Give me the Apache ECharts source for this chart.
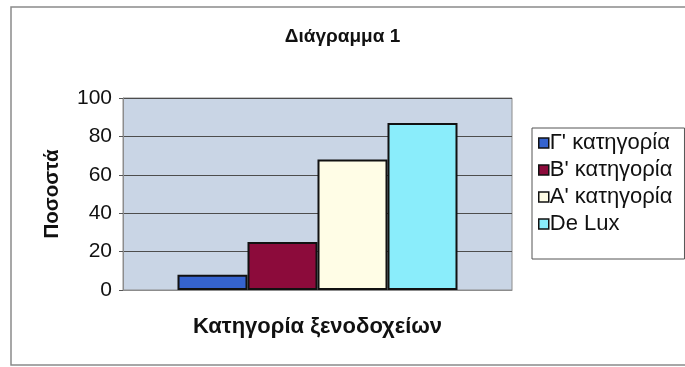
<!DOCTYPE html>
<html>
<head>
<meta charset="utf-8">
<script src="https://cdn.jsdelivr.net/npm/echarts@6/dist/echarts.min.js"></script>
<style>
  html, body { margin: 0; padding: 0; background: #ffffff; }
  #chart { width: 685px; height: 367px; }
</style>
</head>
<body>
<div id="chart"></div>
<script>
// Hotel categories (one bar each) and their percentages
const categories = ["Γ' κατηγορία", "Β' κατηγορία", "Α' κατηγορία", "De Lux"];
const percentages = [8, 25, 68, 87];
const barColors = ['#3563cf', '#8c0b3b', '#fffde6', '#8aedfb'];
const yTicks = { min: 0, max: 100, interval: 20 };
const groupLabel = ['Κατηγορία ξενοδοχείων'];

const FONT = '"Liberation Sans", Arial, Helvetica, sans-serif';

const chart = echarts.init(document.getElementById('chart'), null, { renderer: 'canvas' });

const series = categories.map((name, i) => ({
  name: name,
  type: 'bar',
  data: [percentages[i]],
  barWidth: 70,
  barGap: '0%',
  itemStyle: { color: barColors[i], borderColor: '#111111', borderWidth: 2 }
}));

chart.setOption({
  animation: false,
  backgroundColor: '#ffffff',
  textStyle: { fontFamily: FONT },
  title: {
    text: 'Διάγραμμα 1',
    left: 'center',
    top: 22,
    textStyle: { fontFamily: FONT, fontSize: 19, fontWeight: 'bold', color: '#111111' }
  },
  graphic: [{
    type: 'rect',
    shape: { x: 11, y: 7, width: 700, height: 358 },
    style: { fill: 'none', stroke: '#8a8a8a', lineWidth: 1.5 },
    silent: true,
    z: -1
  }],
  legend: {
    orient: 'vertical',
    left: 532,
    top: 128,
    padding: [4, 12, 24, 6],
    itemGap: 5,
    itemWidth: 10,
    itemHeight: 10,
    icon: 'rect',
    borderColor: '#555555',
    borderWidth: 1,
    backgroundColor: '#ffffff',
    itemStyle: { borderColor: '#111111', borderWidth: 1.5 },
    textStyle: { fontFamily: FONT, fontSize: 22, color: '#111111', padding: [0, 0, 0, -4] },
    data: categories
  },
  grid: {
    left: 123,
    right: 173,
    top: 98,
    bottom: 77,
    show: true,
    backgroundColor: '#c9d5e5',
    borderColor: '#8c8c8c',
    borderWidth: 1,
    containLabel: false
  },
  xAxis: {
    type: 'category',
    data: groupLabel,
    name: groupLabel[0],
    nameLocation: 'middle',
    nameGap: 26,
    nameTextStyle: { fontFamily: FONT, fontSize: 22, fontWeight: 'bold', color: '#111111' },
    axisLabel: { show: false },
    axisTick: { show: false },
    axisLine: { show: true, lineStyle: { color: '#8c8c8c', width: 1 } }
  },
  yAxis: {
    type: 'value',
    min: yTicks.min,
    max: yTicks.max,
    interval: yTicks.interval,
    name: 'Ποσοστά',
    nameLocation: 'middle',
    nameGap: 60,
    nameRotate: 90,
    nameTextStyle: { fontFamily: FONT, fontSize: 20.5, fontWeight: 'bold', color: '#111111' },
    axisLabel: { fontFamily: FONT, fontSize: 21, color: '#111111', margin: 11 },
    axisTick: { show: true, length: 4, lineStyle: { color: '#555555' } },
    axisLine: { show: true, lineStyle: { color: '#8c8c8c' } },
    splitLine: { show: true, lineStyle: { color: '#4d4d4d', width: 1 } }
  },
  series: series
});
</script>
</body>
</html>
